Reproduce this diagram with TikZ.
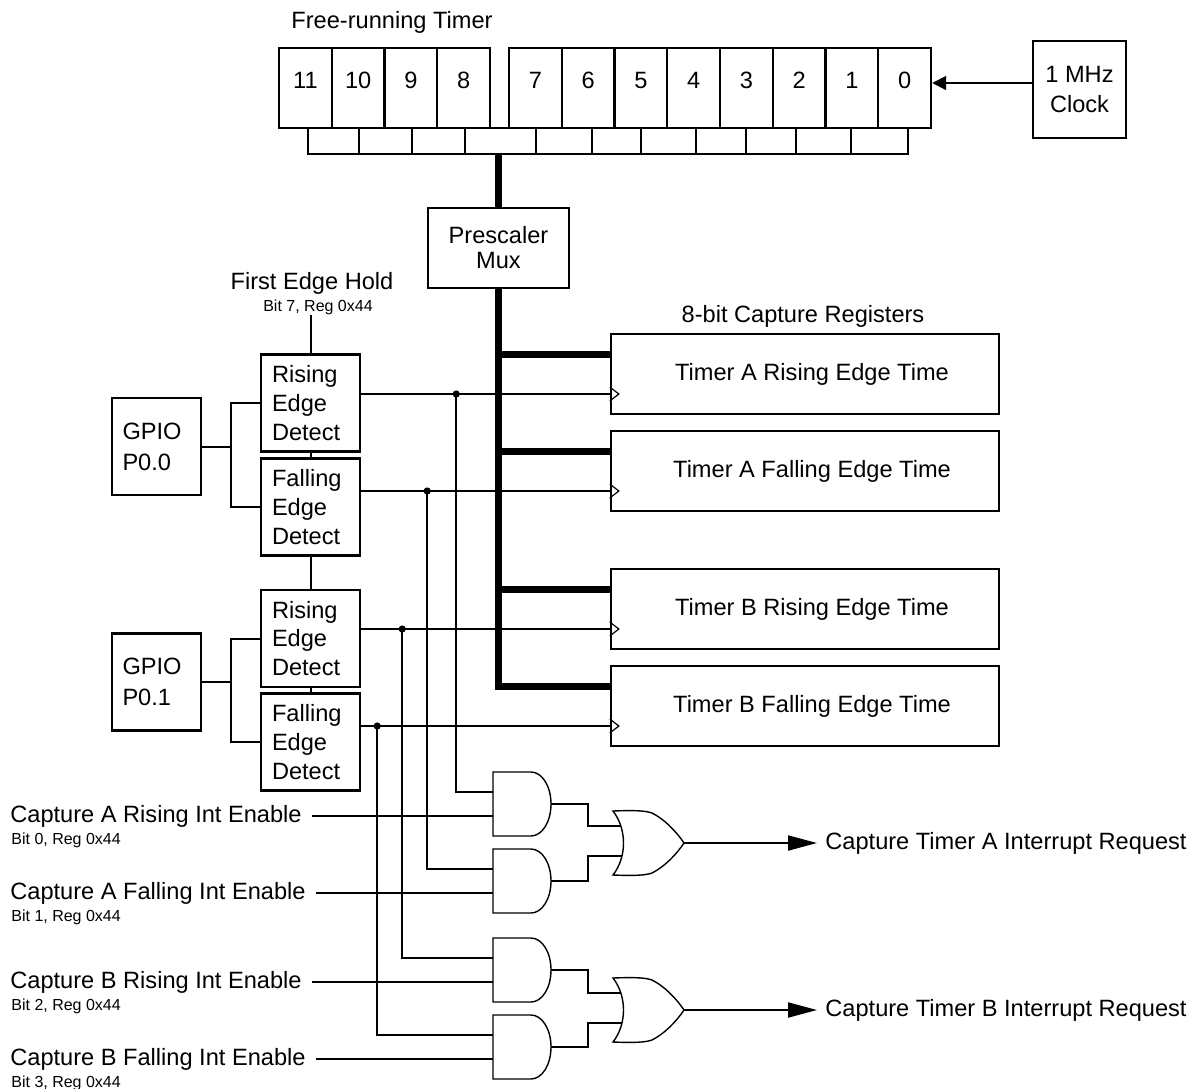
\documentclass[tikz,border=0pt]{standalone}
\usepackage{fontspec}
\setmainfont{Liberation Sans}
\usetikzlibrary{arrows.meta,calc}

\tikzset{
  box/.style={draw, line width=1.2pt, inner sep=0pt},
  bitbox/.style={box, minimum width=26.375pt, minimum height=40pt},
  edgebox/.style={box, minimum height=48.5pt, text width=38.5pt, inner xsep=5.5pt, align=left},
  gpiobox/.style={box, minimum height=48.5pt, text width=34pt, inner xsep=5.25pt, align=left, font=\fontsize{11.8}{15.5}\selectfont},
  regbox/.style={box, minimum width=194pt, minimum height=40pt},
  wire/.style={line width=1pt},
  bus/.style={line width=3.5pt},
  gate/.style={line width=0.7pt},
  clktri/.style={line width=0.6pt},
  lbl/.style={inner sep=0pt},
  small/.style={inner sep=0pt, font=\fontsize{8}{9.6}\selectfont},
}

\begin{document}
\begin{tikzpicture}[x=0.5pt, y=-0.5pt, font=\fontsize{11.8}{14.3}\selectfont]
    \path[use as bounding box, fill=white] (0,0) rectangle (1194,1088);

    \node[lbl] (frt) at (392,22) {Free-running Timer};
    \foreach \i in {8,...,11}
      \node[bitbox, label={[yshift=4pt]center:\i}] (b\i) at ({305.4+(11-\i)*52.75},88) {};
    \foreach \i in {0,...,7}
      \node[bitbox, label={[yshift=4pt]center:\i}] (b\i) at ({535.4+(7-\i)*52.75},88) {};
    \draw[box] (308,128) rectangle (908,154);
    \foreach \x in {359,412,465,536,592,641,696,746,796,851}
      \draw[box] (\x,128) -- (\x,154);

    \node[box, minimum width=46.5pt, minimum height=48.5pt, align=center, font=\fontsize{11.8}{15}\selectfont] (mhz) at (1079.5,89.5) {1 MHz\\Clock};
    \coordinate (mhzout) at ([yshift=3.25pt]mhz.west);
    \draw[wire, -{Triangle[length=7pt, width=7pt]}] (mhzout) -- (mhzout -| b0.east);

    \node[box, minimum width=70.5pt, minimum height=40pt, align=center, font=\fontsize{11.8}{12.5}\selectfont] (mux) at (498.5,248) {Prescaler\\Mux};

    \node[lbl] (reglbl) at (803,316) {8-bit Capture Registers};
    \node[regbox, label={[xshift=3.5pt]center:Timer A Rising Edge Time}] (rAR) at (805,374) {};
    \node[regbox, label={[xshift=3.5pt]center:Timer A Falling Edge Time}] (rAF) at (805,471) {};
    \node[regbox, label={[xshift=3.5pt]center:Timer B Rising Edge Time}] (rBR) at (805,609) {};
    \node[regbox, label={[xshift=3.5pt]center:Timer B Falling Edge Time}] (rBF) at (805,706) {};
    \foreach \r in {AR,AF,BR,BF} {
      \coordinate (ck\r) at ([yshift=-10pt]r\r.west);
      \coordinate (bs\r) at ([yshift=10pt]r\r.west);
    }

    \node[lbl] (hold) at (312,283) {First Edge Hold};
    \node[small] (hold7) at (318,307) {Bit 7, Reg 0x44};
    \node[edgebox] (edR0) at (310.5,403) {Rising\\Edge\\Detect};
    \node[edgebox] (edF0) at (310.5,507) {Falling\\Edge\\Detect};
    \node[edgebox] (edR1) at (310.5,638.5) {Rising\\Edge\\Detect};
    \node[edgebox] (edF1) at (310.5,742) {Falling\\Edge\\Detect};
    \node[gpiobox] (gpio0) at (156.5,446.5) {GPIO\\P0.0};
    \node[gpiobox] (gpio1) at (156.5,682) {GPIO\\P0.1};

    \draw[wire] (edR0.north) -- (edR0.north |- hold7.south);
    \draw[wire] (edR0.south) -- (edF0.north);
    \draw[wire] (edF0.south) -- (edR1.north);
    \draw[wire] (edR1.south) -- (edF1.north);
    \draw[wire] (gpio0.east) -- ++(29,0) coordinate (j0);
    \draw[wire] (edR0.west) -| (j0) |- (edF0.west);
    \draw[wire] (gpio1.east) -- ++(29,0) coordinate (j1);
    \draw[wire] (edR1.west) -| (j1) |- (edF1.west);

    \draw[wire] (edR0.east |- ckAR) -- (ckAR);
    \draw[wire] (edF0.east |- ckAF) -- (ckAF);
    \draw[wire] (edR1.east |- ckBR) -- (ckBR);
    \draw[wire] (edF1.east |- ckBF) -- (ckBF);
    \foreach \r in {AR,AF,BR,BF}
      \draw[clktri] (ck\r) ++(0,-7) -- ++(9,7) -- ++(-9,7);

    \coordinate (tap) at (498.5,154);
    \draw[bus] (tap) -- (mux.north);
    \draw[bus] (mux.south) |- (bsBF);
    \foreach \r in {AR,AF,BR}
      \draw[bus] (mux.south |- bs\r) -- (bs\r);

    \foreach \n/\gy in {1/804, 2/881, 3/970, 4/1047} {
      \begin{scope}[shift={(493,\gy)}]
        \draw[gate] (38,-32) -- (0,-32) -- (0,32) -- (38,32)
          .. controls (49,32) and (58,18) .. (58,0)
          .. controls (58,-18) and (49,-32) .. (38,-32) -- cycle;
        \coordinate (and\n-a) at (0,-12);
        \coordinate (and\n-b) at (0,12);
        \coordinate (and\n-y) at (58,0);
      \end{scope}
    }
    \foreach \n/\gy in {1/843, 2/1010} {
      \begin{scope}[shift={(613,\gy)}]
        \draw[gate] (0,-32) .. controls (25,-33) and (33,-32) .. (39,-30)
          .. controls (51,-24) and (63,-12) .. (71,0)
          .. controls (63,12) and (51,24) .. (39,30)
          .. controls (33,32) and (25,33) .. (0,32)
          .. controls (14,14) and (14,-14) .. (0,-32) -- cycle;
        \coordinate (or\n-a) at (8,-17);
        \coordinate (or\n-b) at (9,13);
        \coordinate (or\n-y) at (71,0);
      \end{scope}
    }

    \coordinate (tAR) at ($(edR0.east |- ckAR)+(95,0)$);
    \coordinate (tAF) at ($(edF0.east |- ckAF)+(66,0)$);
    \coordinate (tBR) at ($(edR1.east |- ckBR)+(41,0)$);
    \coordinate (tBF) at ($(edF1.east |- ckBF)+(16,0)$);
    \draw[wire] (tAR) |- (and1-a);
    \draw[wire] (tAF) |- (and2-a);
    \draw[wire] (tBR) |- (and3-a);
    \draw[wire] (tBF) |- (and4-a);
    \foreach \t in {tAR,tAF,tBR,tBF}
      \fill (\t) circle[radius=1.8pt];

    \node[lbl, anchor=west] (enAR) at (10,816) {Capture A Rising Int Enable};
    \node[small, anchor=west] (bit0) at ($(enAR.west)+(1,24)$) {Bit 0, Reg 0x44};
    \node[lbl, anchor=west] (enAF) at (10,893) {Capture A Falling Int Enable};
    \node[small, anchor=west] (bit1) at ($(enAF.west)+(1,24)$) {Bit 1, Reg 0x44};
    \node[lbl, anchor=west] (enBR) at (10,982) {Capture B Rising Int Enable};
    \node[small, anchor=west] (bit2) at ($(enBR.west)+(1,24)$) {Bit 2, Reg 0x44};
    \node[lbl, anchor=west] (enBF) at (10,1059) {Capture B Falling Int Enable};
    \node[small, anchor=west] (bit3) at ($(enBF.west)+(1,24)$) {Bit 3, Reg 0x44};
    \draw[wire] ([xshift=5pt]enAR.east) -- (and1-b);
    \draw[wire] ([xshift=5pt]enAF.east) -- (and2-b);
    \draw[wire] ([xshift=5pt]enBR.east) -- (and3-b);
    \draw[wire] ([xshift=5pt]enBF.east) -- (and4-b);

    \draw[wire] (and1-y) -- ++(37,0) |- (or1-a);
    \draw[wire] (and2-y) -- ++(37,0) |- (or1-b);
    \draw[wire] (and3-y) -- ++(37,0) |- (or2-a);
    \draw[wire] (and4-y) -- ++(37,0) |- (or2-b);

    \node[lbl, anchor=west] (irqA) at (825,843) {Capture Timer A Interrupt Request};
    \node[lbl, anchor=west] (irqB) at (825,1010) {Capture Timer B Interrupt Request};
    \draw[wire, -{Triangle[length=14.5pt, width=7.5pt]}] (or1-y) -- ([xshift=-4pt]irqA.west);
    \draw[wire, -{Triangle[length=14.5pt, width=7.5pt]}] (or2-y) -- ([xshift=-4pt]irqB.west);
\end{tikzpicture}
\end{document}
